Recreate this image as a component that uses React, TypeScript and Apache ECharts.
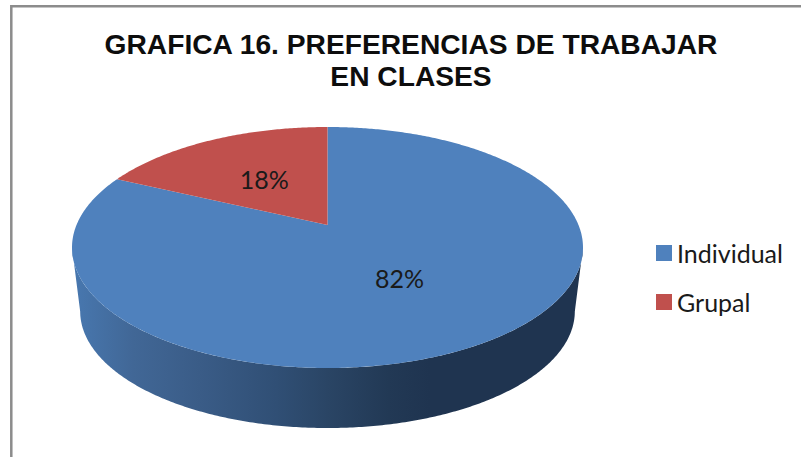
import React, { useEffect, useRef } from "react";
import * as echarts from "echarts";

const titleLines = ["GRAFICA 16. PREFERENCIAS DE TRABAJAR", "EN CLASES"];
const categories = ["Individual", "Grupal"];
const values = [82, 18];
const colors = ["#4f81bd", "#c0504d"];

const total = values.reduce((a, b) => a + b, 0);
const PERSP = 0.1867;
const BX = 251;
const BY = 116.3;
const CX = 327.5;
const TOP_Y = 225;
const DEPTH_SCALE = 0.968;
const BOTTOM_Y = 289.6;

function project(theta: number, r = 1, cy = TOP_Y, s = 1): number[] {
  const u = Math.sin(theta) * r;
  const v = Math.cos(theta) * r;
  const d = 1 + PERSP * v;
  return [CX + (s * BX * u) / d, cy - (s * BY * v) / d];
}

function rim(from: number, to: number, cy = TOP_Y, s = 1): number[][] {
  const n = Math.max(2, Math.ceil(Math.abs(to - from) / 0.01));
  const pts: number[][] = [];
  for (let i = 0; i <= n; i++) pts.push(project(from + ((to - from) * i) / n, 1, cy, s));
  return pts;
}

function sideShape() {
  const tr = Math.acos(-PERSP);
  const tl = 2 * Math.PI - tr;
  return rim(tr, tl).concat(rim(tl, tr, BOTTOM_Y, DEPTH_SCALE));
}

const sideFill = new echarts.graphic.LinearGradient(0, 0, 1, 0, [
  { offset: 0, color: "#4878b0" },
  { offset: 0.12, color: "#416796" },
  { offset: 0.25, color: "#3a5c87" },
  { offset: 0.4, color: "#304f75" },
  { offset: 0.5, color: "#2a4565" },
  { offset: 0.62, color: "#223955" },
  { offset: 0.7, color: "#1f3450" },
  { offset: 1, color: "#1f3450" },
]);

function makeSeries(index: number) {
  const before = values.slice(0, index).reduce((a, b) => a + b, 0);
  return {
    type: "custom",
    name: categories[index],
    coordinateSystem: "none",
    color: colors[index],
    silent: true,
    data: [[values[index], before]],
    renderItem: (_p: any, api: any) => {
      const value = api.value(0) as number;
      const start = ((api.value(1) as number) / total) * 2 * Math.PI;
      const end = start + (value / total) * 2 * Math.PI;
      const children: any[] = [];
      if (index === 0) {
        children.push({
          type: "polygon",
          shape: { points: sideShape() },
          style: { fill: sideFill, stroke: "none" },
        });
      }
      children.push({
        type: "polygon",
        shape: { points: [[CX, TOP_Y], ...rim(start, end)] },
        style: { fill: colors[index], stroke: "none" },
      });
      const [lx, ly] = project((start + end) / 2, 0.5);
      children.push({
        type: "text",
        style: {
          x: lx - 1,
          y: ly,
          text: `${Math.round((value / total) * 100)}%`,
          fill: "#1a1a1a",
          font: '25px Lato',
          align: "center",
          verticalAlign: "middle",
        },
      });
      return { type: "group", children };
    },
  };
}

export default function App() {
  const ref = useRef<HTMLDivElement>(null);
  useEffect(() => {
    document.body.style.margin = "0";
    const chart = echarts.init(ref.current!, undefined, { renderer: "svg" });
    chart.setOption({
      animation: false,
      backgroundColor: "#ffffff",
      title: {
        text: titleLines.join("\n"),
        left: 406,
        top: 23,
        textAlign: "center",
        textStyle: {
          fontFamily: "Liberation Sans",
          fontWeight: "bold",
          fontSize: 28.2,
          lineHeight: 32,
          color: "#0d0d0d",
        },
      },
      legend: {
        orient: "vertical",
        left: 656,
        top: 240,
        padding: 0,
        itemWidth: 16,
        itemHeight: 16,
        itemGap: 23,
        icon: "rect",
        selectedMode: false,
        data: categories,
        textStyle: { fontFamily: "Lato", fontSize: 25, color: "#1a1a1a", lineHeight: 26 },
      },
      graphic: [
        {
          type: "polyline",
          silent: true,
          shape: { points: [[11.3, 457], [11.3, 6.2], [801, 6.2]] },
          style: { fill: "none", stroke: "#8c8c8c", lineWidth: 2.5 },
        },
      ],
      series: values.map((_, i) => makeSeries(i)),
    });
    return () => chart.dispose();
  }, []);
  return <div ref={ref} style={{ width: 801, height: 457 }} />;
}
